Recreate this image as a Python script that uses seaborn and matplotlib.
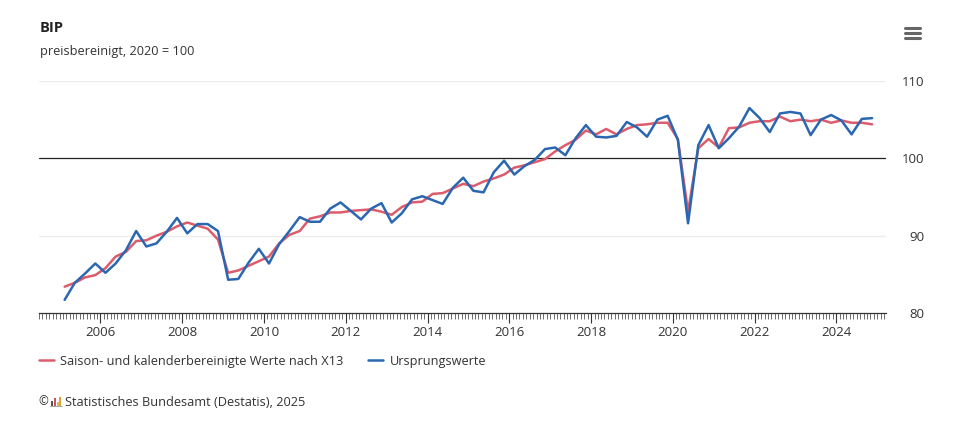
import matplotlib.pyplot as plt
import matplotlib.dates as mdates
from matplotlib.lines import Line2D
from matplotlib.patches import Rectangle
import numpy as np
import pandas as pd
import seaborn as sns

# Quarters 2005Q1 .. 2024Q4
quarters = pd.period_range('2005Q1', '2024Q4', freq='Q')

# Saison- und kalenderbereinigte Werte nach X13
x13 = [83.4, 83.9, 84.6, 84.9,
       85.8, 87.3, 87.9, 89.3,
       89.4, 90.0, 90.5, 91.2,
       91.7, 91.3, 90.9, 89.5,
       85.2, 85.5, 86.1, 86.7,
       87.3, 89.0, 90.1, 90.6,
       92.2, 92.5, 93.0, 93.0,
       93.2, 93.3, 93.4, 93.1,
       92.7, 93.7, 94.3, 94.4,
       95.4, 95.5, 96.1, 96.7,
       96.4, 97.0, 97.4, 97.9,
       98.8, 99.1, 99.5, 99.9,
       100.9, 101.7, 102.4, 103.6,
       103.1, 103.8, 103.1, 103.8,
       104.3, 104.4, 104.6, 104.6,
       102.5, 93.1, 101.3, 102.5,
       101.4, 103.9, 104.0, 104.6,
       104.8, 104.8, 105.4, 104.8,
       105.0, 104.8, 105.0, 104.6,
       104.9, 104.6, 104.6, 104.4]

# Ursprungswerte
original = [81.7, 83.9, 85.1, 86.4,
            85.2, 86.4, 88.1, 90.6,
            88.6, 89.0, 90.5, 92.3,
            90.3, 91.5, 91.5, 90.6,
            84.3, 84.4, 86.5, 88.3,
            86.4, 88.9, 90.6, 92.4,
            91.8, 91.8, 93.5, 94.3,
            93.2, 92.1, 93.5, 94.2,
            91.7, 92.9, 94.7, 95.1,
            94.6, 94.1, 96.2, 97.5,
            95.8, 95.6, 98.2, 99.7,
            97.9, 99.0, 99.8, 101.2,
            101.4, 100.4, 102.6, 104.3,
            102.8, 102.7, 102.9, 104.7,
            104.0, 102.8, 105.0, 105.5,
            102.4, 91.6, 101.7, 104.3,
            101.3, 102.6, 104.1, 106.5,
            105.2, 103.4, 105.8, 106.0,
            105.8, 103.0, 105.0, 105.6,
            104.9, 103.1, 105.1, 105.2]

y_ticks = [80, 90, 100, 110]

# quarter midpoints as dates
dates = [p.start_time + (p.end_time - p.start_time) / 2 for p in quarters]
df = pd.DataFrame({'Datum': dates, 'X13': x13, 'Ursprung': original})

sns.set_style('white')
plt.rcParams['font.family'] = ['Open Sans', 'DejaVu Sans']

red = '#dc5c6c'
blue = '#2b67b1'
text_col = '#333333'

fig = plt.figure(figsize=(9.62, 4.23), dpi=100)
ax = fig.add_axes([39 / 962, 1 - 313 / 423, (886 - 39) / 962, (313 - 81) / 423])

sns.lineplot(data=df, x='Datum', y='X13', ax=ax, color=red, linewidth=1.8,
             label='Saison- und kalenderbereinigte Werte nach X13')
sns.lineplot(data=df, x='Datum', y='Ursprung', ax=ax, color=blue, linewidth=1.8,
             label='Ursprungswerte')

ax.set_ylim(80, 110)
ax.set_xlim(pd.Timestamp('2004-07-01'), pd.Timestamp('2025-03-20'))
ax.yaxis.tick_right()
ax.set_yticks(y_ticks)
ax.tick_params(axis='y', length=0, labelsize=9.5, labelcolor=text_col, pad=0)
for lab in ax.get_yticklabels():
    lab.set_horizontalalignment('right')
    lab.set_x(1.045)

ax.xaxis.set_major_locator(mdates.YearLocator(2))
ax.xaxis.set_major_formatter(mdates.DateFormatter('%Y'))
ax.xaxis.set_minor_locator(mdates.MonthLocator())
ax.tick_params(axis='x', which='major', length=7, width=0.8, color='#333333',
               labelsize=9.5, labelcolor=text_col, pad=2, bottom=True)
ax.tick_params(axis='x', which='minor', length=4, width=0.6, color='#555555', bottom=True)

ax.set_xlabel('')
ax.set_ylabel('')
for s in ['top', 'left', 'right']:
    ax.spines[s].set_visible(False)
ax.spines['bottom'].set_color('#333333')
ax.spines['bottom'].set_linewidth(0.9)

for v in [90, 110]:
    ax.axhline(v, color='#ececec', linewidth=1, zorder=0)
ax.axhline(100, color='#222222', linewidth=0.9, zorder=1)

# legend below
handles, labels = ax.get_legend_handles_labels()
ax.get_legend().remove()
fig.legend(handles, labels, loc='center left', bbox_to_anchor=(27 / 962, 1 - 361 / 423),
           ncol=2, frameon=False, fontsize=9.2, handlelength=1.2, handletextpad=0.5,
           columnspacing=1.9, labelcolor=text_col)

# title and subtitle
fig.text(40 / 962, 1 - 28 / 423, 'BIP', fontsize=10.5, fontweight='bold', color='#222222', va='center')
fig.text(40 / 962, 1 - 51 / 423, 'preisbereinigt, 2020 = 100', fontsize=9.2, color=text_col, va='center')

# footer with copyright and small logo bars
fig.text(38 / 962, 1 - 402 / 423, '©', fontsize=8.5, color=text_col, va='center')
for x0, h, c in [(51, 5, '#555555'), (54, 8, '#d4505e'), (57, 4, '#e8b84a'), (59.5, 9, '#d4a640')]:
    fig.add_artist(Rectangle((x0 / 962, 1 - 406 / 423), 1.6 / 962, h / 423, color=c, lw=0))
fig.add_artist(Line2D([50 / 962, 62 / 962], [1 - 406 / 423] * 2, color='#999999', lw=0.6))
fig.text(65 / 962, 1 - 402 / 423, 'Statistisches Bundesamt (Destatis), 2025', fontsize=9.2,
         color=text_col, va='center')

# menu icon
for yy in [28, 33, 38]:
    fig.add_artist(Line2D([905 / 962, 920 / 962], [1 - yy / 423] * 2, color='#666666', lw=2.2,
                          solid_capstyle='round'))

fig.savefig('out.png', dpi=100, facecolor='white')
